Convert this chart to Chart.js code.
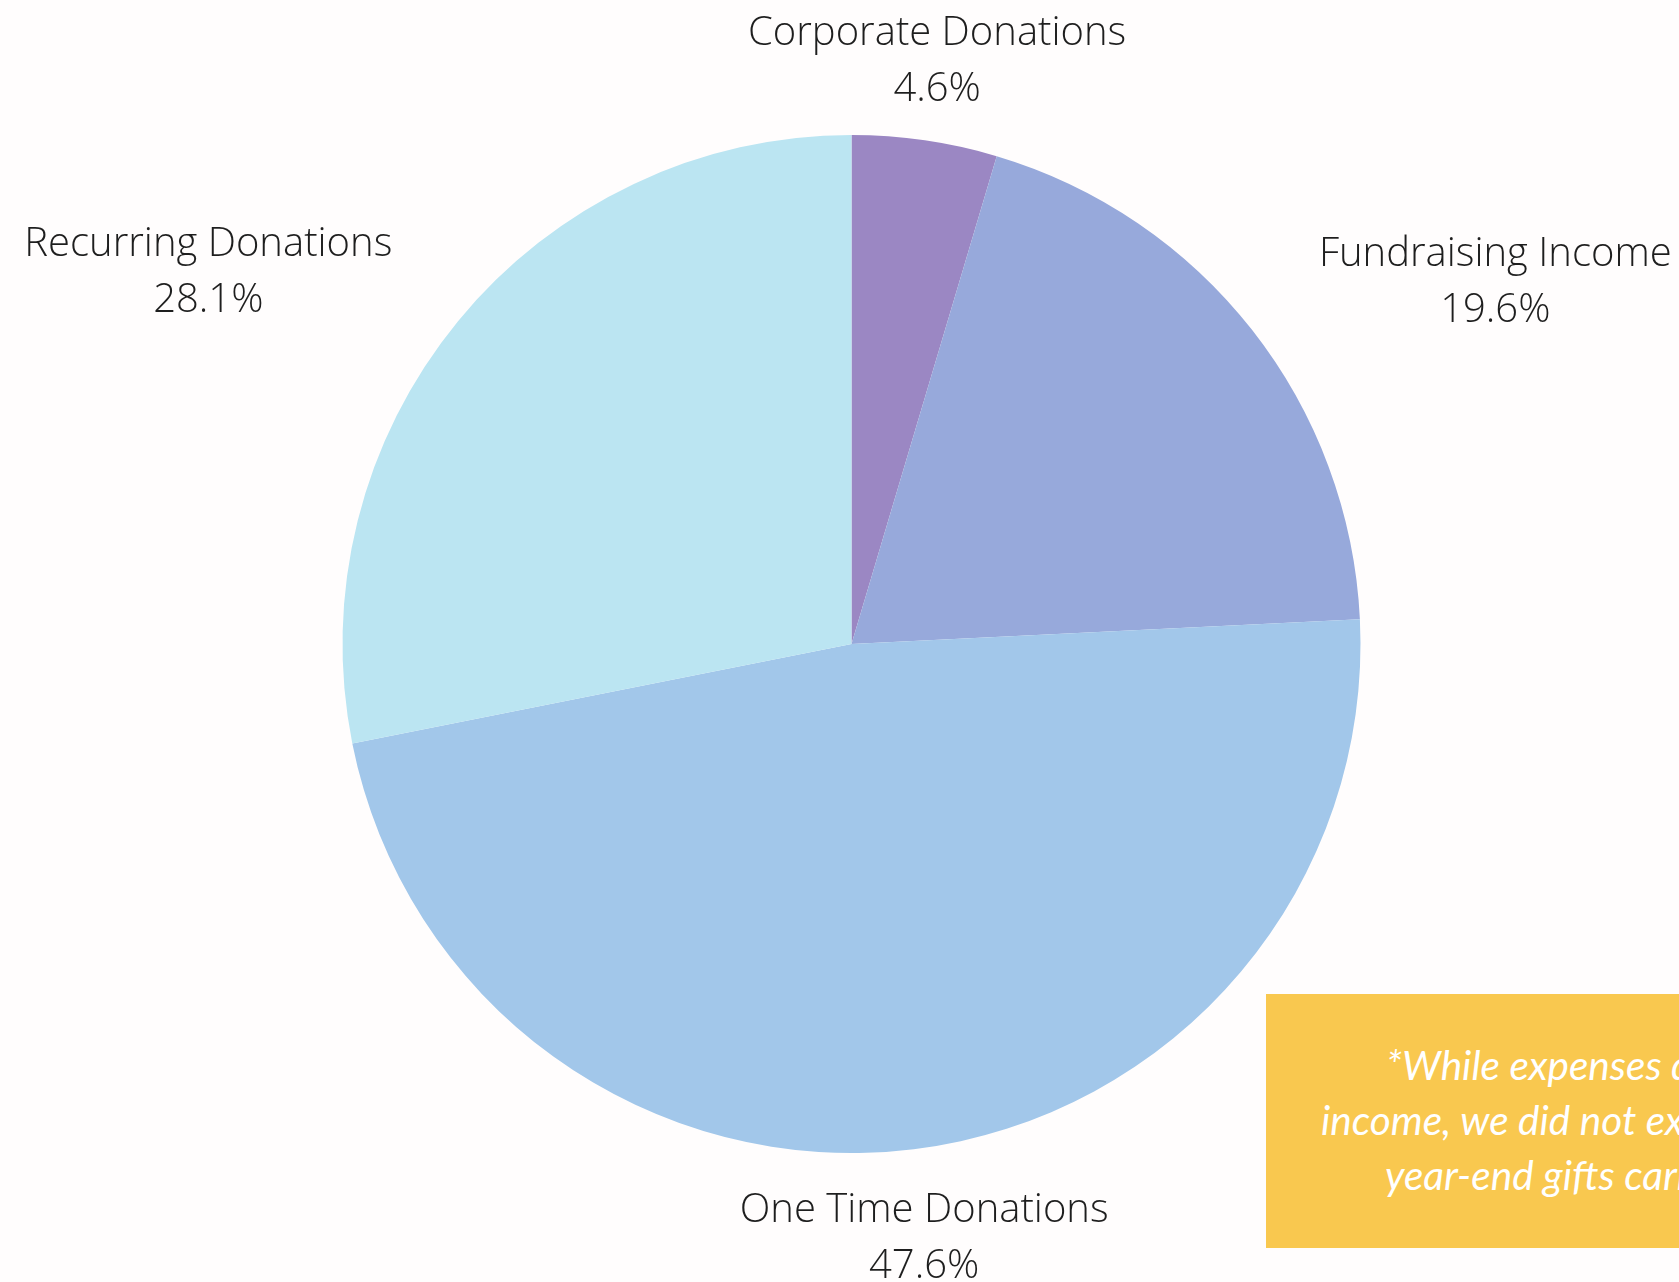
<!DOCTYPE html>
<html>
<head>
<meta charset="utf-8">
<script src="https://cdn.jsdelivr.net/npm/chart.js@4.4.1/dist/chart.umd.min.js"></script>
<style>
  html, body { margin: 0; padding: 0; background: #fffdfd; overflow: hidden; }
  #wrap { position: relative; width: 1679px; height: 1282px; overflow: hidden; }
  canvas { position: absolute; left: 0; top: 0; }
  #note {
    position: absolute; left: 1266px; top: 994px; width: 700px; height: 254px;
    background: #f9c84f; color: #ffffff;
    font-family: Lato, sans-serif; font-style: italic; font-size: 40.5px; line-height: 55px;
    text-align: left; box-sizing: border-box; padding-top: 43px; white-space: nowrap;
  }
  #note .l1 { margin-left: 120px; }
  #note .l2 { margin-left: 55px; }
  #note .l3 { margin-left: 119px; }
</style>
</head>
<body>
<div id="wrap">
  <canvas id="c" width="1679" height="1282"></canvas>
  <div id="note"><div class="l1">*While expenses did exceed</div><div class="l2">income, we did not expect</div><div class="l3">year-end gifts carried us</div></div>
</div>
<script>
const categories = ["Corporate Donations", "Fundraising Income", "One Time Donations", "Recurring Donations"];
const values = [4.6, 19.6, 47.6, 28.1];
const percentLabels = ["4.6%", "19.6%", "47.6%", "28.1%"];
const colors = ["#9b87c3", "#97a9db", "#a2c7ea", "#bbe5f2"];

const outsideLabels = {
  id: 'outsideLabels',
  afterDatasetsDraw(chart) {
    const ctx = chart.ctx;
    const meta = chart.getDatasetMeta(0);
    ctx.save();
    ctx.fillStyle = '#1e1e1e';
    ctx.font = '300 40px "Open Sans"';
    ctx.textBaseline = 'middle';
    meta.data.forEach((arc, i) => {
      const p = arc.getProps(['x', 'y', 'startAngle', 'endAngle', 'outerRadius'], true);
      const mid = (p.startAngle + p.endAngle) / 2;
      const r = p.outerRadius + 85;
      const ax = p.x + Math.cos(mid) * r;
      const ay = p.y + Math.sin(mid) * r + 5;
      const lines = [categories[i], percentLabels[i]];
      const w = Math.max(...lines.map(l => ctx.measureText(l).width));
      const c = Math.cos(mid);
      let cx;
      if (Math.abs(c) < 0.35) cx = ax;
      else if (c > 0) cx = ax + w / 2;
      else cx = ax - w / 2;
      ctx.textAlign = 'center';
      ctx.fillText(lines[0], cx, ay - 28);
      ctx.fillText(lines[1], cx, ay + 28);
    });
    ctx.restore();
  }
};

new Chart(document.getElementById('c'), {
  type: 'pie',
  data: {
    labels: categories,
    datasets: [{ data: values, backgroundColor: colors, borderWidth: 0 }]
  },
  options: {
    responsive: false,
    animation: false,
    layout: { padding: { left: 342, right: 318, top: 135, bottom: 129 } },
    plugins: { legend: { display: false }, tooltip: { enabled: false } }
  },
  plugins: [outsideLabels]
});
</script>
</body>
</html>
